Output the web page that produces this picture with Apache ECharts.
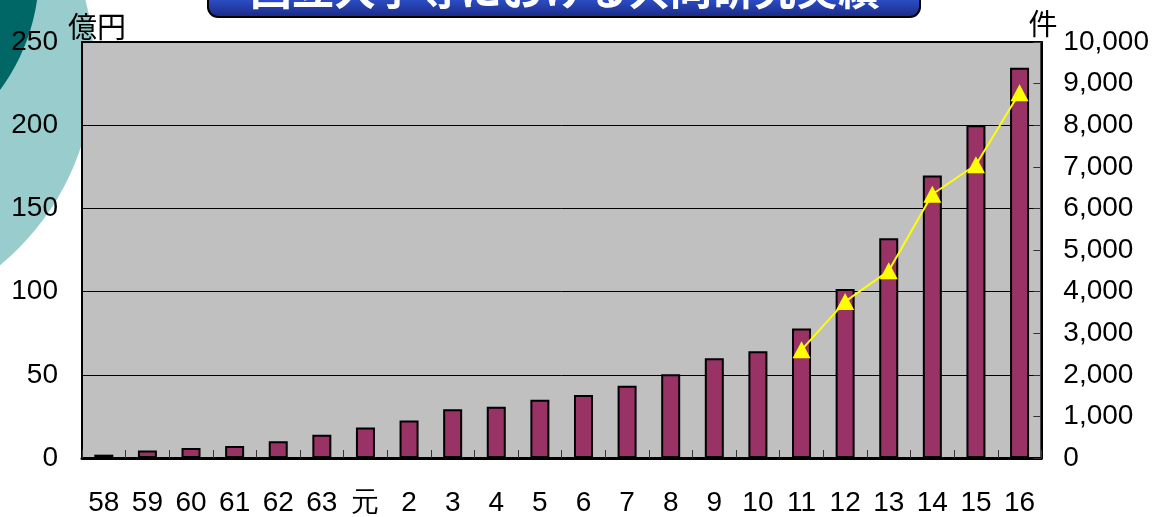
<!DOCTYPE html>
<html>
<head>
<meta charset="utf-8">
<script src="https://cdn.jsdelivr.net/npm/echarts@6/dist/echarts.min.js"></script>
<style>
  html, body { margin: 0; padding: 0; background: #fff; }
  #chart { width: 1152px; height: 517px; }
</style>
</head>
<body>
<div id="chart"></div>
<script>
// 年度（昭和58年〜平成16年）
const years = ['58', '59', '60', '61', '62', '63', '元', '2', '3', '4', '5', '6', '7', '8', '9', '10', '11', '12', '13', '14', '15', '16'];
// 共同研究の受入額（億円）
const amount = [2, 4.5, 6, 7.2, 10, 14, 18.4, 22.6, 29.3, 30.8, 35, 37.8, 43.4, 50.4, 60, 64.1, 77.8, 101.5, 132, 169.7, 200, 234.6];
// 共同研究の件数（件）— 平成11年度から
const count = [null, null, null, null, null, null, null, null, null, null, null, null, null, null, null, null, 2600, 3760, 4500, 6340, 7050, 8780];
// 目盛り
const amountTicks = { min: 0, max: 250, step: 50 };
const countTicks = { min: 0, max: 10000, step: 1000 };
const titleText = '国立大学等における共同研究実績';
const leftUnit = '億円';
const rightUnit = '件';

const latin = "'Liberation Sans', Arial, sans-serif";
const cjk = "'Noto Sans CJK JP', 'Noto Sans CJK SC', sans-serif";

const chart = echarts.init(document.getElementById('chart'), null, { renderer: 'canvas' });

chart.setOption({
  backgroundColor: '#ffffff',
  animation: false,
  grid: {
    left: 82, right: 109, top: 42, bottom: 58,
    show: true,
    backgroundColor: '#C0C0C0',
    borderColor: '#000000',
    borderWidth: 2
  },
  graphic: [
    // 左上の装飾円
    { type: 'circle', z: -10, shape: { cx: -164, cy: 66, r: 258 }, style: { fill: '#99CCCC' } },
    { type: 'circle', z: -9, shape: { cx: -159, cy: -28, r: 198 }, style: { fill: '#006666' } },
    // タイトルの帯
    {
      type: 'rect', z: 10,
      shape: { x: 208, y: -30, width: 712, height: 47, r: 10 },
      style: {
        fill: new echarts.graphic.LinearGradient(0, 0, 0, 1, [
          { offset: 0, color: '#3A66E2' },
          { offset: 0.6, color: '#2C50CA' },
          { offset: 1, color: '#1A2882' }
        ]),
        stroke: '#000000', lineWidth: 2
      }
    },
    {
      type: 'text', z: 11,
      style: {
        x: 565, y: -11, text: titleText,
        fill: '#ffffff', font: 'bold 42px ' + cjk,
        textAlign: 'center', textVerticalAlign: 'middle'
      }
    },
    // 単位
    {
      type: 'text', z: 11,
      style: { x: 97, y: 27, text: leftUnit, fill: '#000', font: '29px ' + cjk, textAlign: 'center', textVerticalAlign: 'middle' }
    },
    {
      type: 'text', z: 11,
      style: { x: 1043, y: 24, text: rightUnit, fill: '#000', font: '29px ' + cjk, textAlign: 'center', textVerticalAlign: 'middle' }
    }
  ],
  xAxis: {
    type: 'category',
    data: years,
    axisLine: { show: true, lineStyle: { color: '#000', width: 3 } },
    axisTick: { show: true, inside: true, length: 8, lineStyle: { color: '#333', width: 1 } },
    axisLabel: { margin: 31, fontSize: 28, color: '#000', fontFamily: latin },
    splitLine: { show: false }
  },
  yAxis: [
    {
      type: 'value',
      min: amountTicks.min, max: amountTicks.max, interval: amountTicks.step,
      axisLine: { show: true, lineStyle: { color: '#000', width: 2 } },
      axisTick: { show: false },
      axisLabel: { margin: 24, fontSize: 28, color: '#000', fontFamily: latin },
      splitLine: { show: true, lineStyle: { color: '#000', width: 1 } }
    },
    {
      type: 'value',
      min: countTicks.min, max: countTicks.max, interval: countTicks.step,
      position: 'right',
      axisLine: { show: true, lineStyle: { color: '#000', width: 2 } },
      axisTick: { show: true, inside: true, length: 8, lineStyle: { color: '#333', width: 1 } },
      axisLabel: {
        margin: 22, fontSize: 28, color: '#000', fontFamily: latin,
        formatter: v => v.toLocaleString('en-US')
      },
      splitLine: { show: false }
    }
  ],
  series: [
    {
      name: '受入額',
      type: 'bar',
      yAxisIndex: 0,
      data: amount,
      barWidth: 19,
      itemStyle: { color: '#993366', borderColor: '#000', borderWidth: 2 }
    },
    {
      name: '件数',
      type: 'line',
      yAxisIndex: 1,
      data: count,
      connectNulls: false,
      symbol: 'triangle',
      symbolSize: [18, 17],
      lineStyle: { color: '#FFFF00', width: 2 },
      itemStyle: { color: '#FFFF00', borderWidth: 0 },
      z: 5
    }
  ]
});
</script>
</body>
</html>
